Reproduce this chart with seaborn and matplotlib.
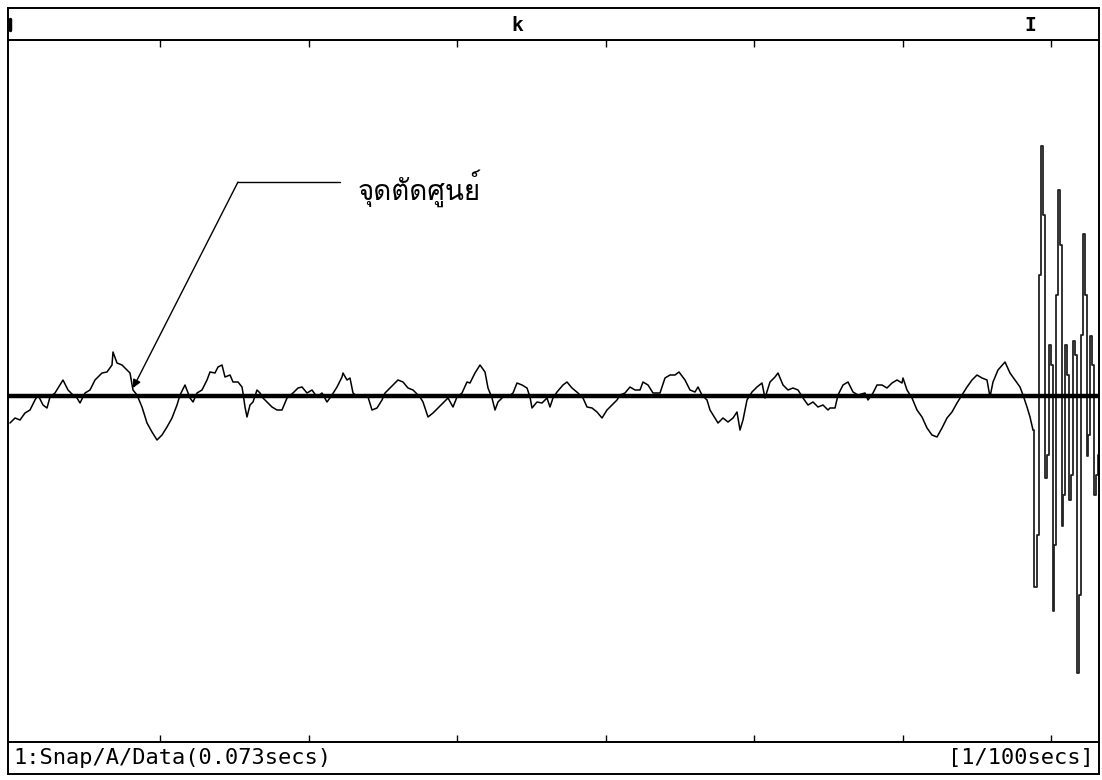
import matplotlib
matplotlib.use("Agg")
import matplotlib.pyplot as plt
import seaborn as sns
import pandas as pd
from matplotlib import font_manager, ft2font

# ---------------- data ----------------
# sample position along the trace and signal deviation from zero line
sample = [
    10, 15, 20, 25, 30, 35, 38, 43, 47, 50, 55, 60, 63, 68, 73, 77, 80, 85, 90, 95,
    102, 107, 112, 113, 117, 122, 127, 130, 133, 137, 142, 147, 152, 157, 162, 167, 172, 177, 180, 185,
    190, 193, 197, 202, 207, 210, 215, 218, 222, 225, 230, 233, 238, 242, 243, 245, 247, 250, 253, 257,
    260, 263, 267, 272, 277, 282, 287, 293, 298, 302, 307, 312, 317, 322, 327, 332, 337, 342, 343, 347,
    350, 353, 358, 363, 368, 372, 377, 382, 385, 390, 395, 398, 403, 408, 413, 418, 420, 423, 428, 433,
    438, 443, 448, 453, 457, 462, 467, 470, 475, 480, 485, 488, 492, 495, 498, 503, 508, 513, 517, 522,
    527, 530, 532, 537, 542, 547, 550, 553, 557, 563, 567, 572, 578, 583, 587, 592, 597, 602, 607, 612,
    617, 620, 625, 630, 635, 640, 643, 648, 653, 660, 665, 670, 675, 679, 685, 690, 695, 698, 702, 707,
    710, 715, 718, 723, 728, 733, 737, 740, 743, 747, 752, 757, 762, 765, 770, 775, 778, 783, 788, 793,
    798, 803, 808, 813, 818, 823, 828, 830, 835, 838, 843, 848, 853, 858, 865, 868, 873, 877, 882, 887,
    892, 897, 902, 903, 907, 912, 917, 922, 927, 932, 937, 942, 947, 952, 957, 962, 967, 972, 977, 982,
    987, 990, 993, 998, 1005, 1010, 1015, 1020, 1023, 1027, 1030, 1033,
    1035, 1038, 1040, 1042, 1044, 1045, 1048, 1050, 1052, 1053, 1055, 1057, 1059, 1061, 1062, 1064,
    1066, 1068, 1070, 1072, 1074, 1076, 1078, 1080, 1082, 1084, 1086, 1087, 1089, 1091, 1093, 1095,
    1097, 1099,
]
signal = [
    -28, -23, -25, -18, -15, -5, 0, -10, -13, -2, 2, 10, 15, 5, 0, -3, -8, 2, 5, 15,
    22, 23, 30, 43, 32, 30, 25, 22, 5, 0, -12, -28, -37, -45, -40, -32, -23, -10, 0, 10,
    -3, -7, 2, 5, 15, 23, 22, 28, 30, 18, 20, 13, 13, 8, 2, -12, -22, -10, -7, 5,
    2, -3, -7, -12, -15, -15, -3, 2, 7, 8, 2, 5, -2, 2, -7, 0, 8, 18, 22, 15,
    17, 2, -2, 0, -2, -15, -13, -5, 2, 7, 12, 15, 13, 7, 5, 0, -2, -7, -22, -18,
    -13, -8, -3, -12, -2, 2, 13, 12, 22, 30, 23, 7, -3, -15, -7, -2, -2, 2, 12, 10,
    7, -2, -13, -7, -8, -3, -12, -3, 3, 10, 13, 7, 2, -3, -12, -13, -17, -23, -15, -10,
    -5, 0, 2, 8, 5, 5, 13, 10, 2, 2, 17, 20, 20, 23, 15, 5, 3, 8, 0, -5,
    -15, -23, -28, -23, -27, -23, -17, -35, -25, -5, 3, 8, 12, -3, 13, 18, 22, 10, 5, 7,
    5, -3, -10, -7, -12, -10, -15, -13, -13, 0, 10, 13, 3, 0, 2, -5, 2, 10, 10, 7,
    12, 15, 12, 17, 5, -3, -15, -22, -33, -40, -42, -33, -23, -17, -8, 0, 8, 15, 20, 17,
    15, -2, 13, 25, 33, 22, 15, 8, 0, -12, -22, -35,
    -192, -140, 120, 249, 180, -83, -60, 50, 30, -216, -150, 100, 205, 150, -131, -100,
    50, 20, -105, -80, 54, 40, -278, -200, 60, 161, 100, -61, -40, 59, 30, -100,
    -80, -60,
]
burst_start = 1033   # sample where the large step-like burst begins
tick_positions = [160, 308.5, 457, 605.5, 754, 902.5, 1051]
header_marks = ["k", "I"]
header_mark_pos = [517, 1030]
footer_left = "1:Snap/A/Data(0.073secs)"
footer_right = "[1/100secs]"
callout = "จุดตัดศูนย์"

df = pd.DataFrame({"sample": sample, "signal": signal})
calm = df[df["sample"] <= burst_start]
burst = df[df["sample"] >= burst_start]

# ---------------- fonts ----------------
thai_font = None
for f in font_manager.fontManager.ttflist:
    try:
        if 0x0E08 in ft2font.FT2Font(f.fname).get_charmap():
            thai_font = f.name
            break
    except Exception:
        pass

sns.set_theme(style="white")
plt.rcParams["font.family"] = ["DejaVu Sans"]

W, H = 1102, 780
fig = plt.figure(figsize=(W / 100, H / 100), dpi=100)
fig.patch.set_facecolor("white")

def box(l, t, r, b):
    return [l / W, 1 - b / H, (r - l) / W, (b - t) / H]

# main plot
ax = fig.add_axes(box(8, 40, 1099, 742))
sns.lineplot(data=calm, x="sample", y="signal", ax=ax, color="black",
             linewidth=1.1, estimator=None, sort=False)
sns.lineplot(data=burst, x="sample", y="signal", ax=ax, color="#222222",
             linewidth=1.3, estimator=None, sort=False, drawstyle="steps-mid")
ax.axhline(-1, color="black", linewidth=3.2, zorder=3)
ax.set_xlim(8, 1099)
ax.set_ylim(-347, 355)
ax.set_xticks(tick_positions)
ax.set_yticks([])
ax.set_xticklabels([])
ax.set_xlabel("")
ax.set_ylabel("")
ax.tick_params(axis="x", direction="in", top=True, bottom=True, length=5,
               width=1, color="black", labelbottom=False)
for s in ax.spines.values():
    s.set_color("black")
    s.set_linewidth(1.4)

# callout
ax.plot([238, 340], [213, 213], color="black", linewidth=1.0)
ax.annotate("", xy=(133, 7), xytext=(238, 213),
            arrowprops=dict(arrowstyle="-|>", color="black", lw=1.0,
                            mutation_scale=12, shrinkA=0, shrinkB=0))
fam = [thai_font, "DejaVu Sans"] if thai_font else ["DejaVu Sans"]
ax.text(358, 207, callout, family=fam, fontsize=20, color="black",
        ha="left", va="center")

# header
hx = fig.add_axes(box(8, 8, 1099, 40))
hx.set_xlim(8, 1099)
hx.set_ylim(0, 1)
hx.set_xticks([]); hx.set_yticks([])
for s in hx.spines.values():
    s.set_color("black"); s.set_linewidth(1.4)
for m, p in zip(header_marks, header_mark_pos):
    hx.text(p, 0.45, m, family="DejaVu Sans Mono", fontweight="bold",
            fontsize=14, ha="center", va="center", color="black")
hx.plot([9.5, 9.5], [0.3, 0.65], color="black", linewidth=2.5)

# footer
fx = fig.add_axes(box(8, 742, 1099, 774))
fx.set_xlim(8, 1099)
fx.set_ylim(0, 1)
fx.set_xticks([]); fx.set_yticks([])
for s in fx.spines.values():
    s.set_color("black"); s.set_linewidth(1.4)
fx.text(13, 0.5, footer_left, family="DejaVu Sans Mono", fontsize=15.8,
        ha="left", va="center", color="black")
fx.text(1094, 0.5, footer_right, family="DejaVu Sans Mono", fontsize=15.8,
        ha="right", va="center", color="black")

fig.savefig("out.png", dpi=100, facecolor="white")
